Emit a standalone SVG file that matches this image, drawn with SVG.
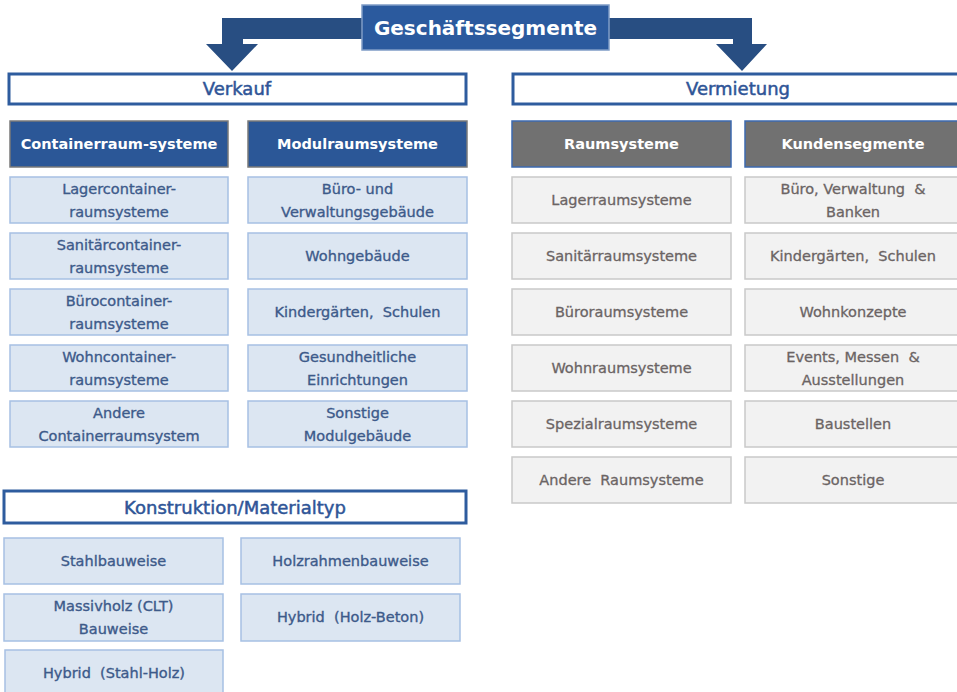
<svg xmlns="http://www.w3.org/2000/svg" width="957" height="692" viewBox="0 0 957 692">
<style>
text{font-family:"DejaVu Sans","Noto Sans",sans-serif;text-anchor:middle}
.title{fill:#2B5A9E;stroke:#7F9CC6;stroke-width:1.5}
.titletxt{fill:#FFFFFF;font-size:20px;font-weight:bold}
.sec{fill:#FFFFFF;stroke:#2E5C9E;stroke-width:3}
.sectxt{fill:#2F5597;font-size:18px;stroke:#2F5597;stroke-width:0.5}
.hb{fill:#2B5797;stroke:#7A7A7A;stroke-width:1.5}
.hg{fill:#717171;stroke:#3C6AB0;stroke-width:1.5}
.htxt{fill:#FFFFFF;font-size:14.5px;font-weight:bold}
.lb{fill:#DCE6F2;stroke:#A6C0E3;stroke-width:1.5}
.lbt{fill:#3D5A8A;font-size:14.5px;stroke:#3D5A8A;stroke-width:0.35}
.lg{fill:#F2F2F2;stroke:#C9C9C9;stroke-width:1.5}
.lgt{fill:#6B6464;font-size:14.5px;stroke:#6B6464;stroke-width:0.3}
.arrow{fill:#284E82}
</style>
<g id="connectors">
<path class="arrow" d="M362,18 L222,18 L222,44 L206,44 L232,71 L258,44 L243,44 L243,39 L362,39 Z"/>
<path class="arrow" d="M609,18 L752,18 L752,44 L767,44 L742,71 L716,44 L733,44 L733,39 L609,39 Z"/>
</g>
<g id="title"><rect class="title" x="362" y="5" width="247" height="45"/><text class="titletxt" x="485.5" y="35">Geschäftssegmente</text></g>
<g id="verkauf"><rect class="sec" x="9" y="74" width="457" height="30"/><text class="sectxt" x="237" y="95">Verkauf</text></g>
<g id="vermietung"><rect class="sec" x="513" y="74" width="452" height="30"/><text class="sectxt" x="738" y="95">Vermietung</text></g>
<g id="h-container"><rect class="hb" x="10" y="121" width="218" height="46"/><text class="htxt" x="119" y="149">Containerraum-systeme</text></g>
<g id="h-modul"><rect class="hb" x="248" y="121" width="219" height="46"/><text class="htxt" x="357.5" y="149">Modulraumsysteme</text></g>
<g id="h-raum"><rect class="hg" x="512" y="121" width="219" height="46"/><text class="htxt" x="621.5" y="149">Raumsysteme</text></g>
<g id="h-kunden"><rect class="hg" x="745" y="121" width="220" height="46"/><text class="htxt" x="853" y="149">Kundensegmente</text></g>

<g id="c1"><rect class="lb" x="10" y="177" width="218" height="46"/><text class="lbt" x="119" y="194">Lagercontainer-</text><text class="lbt" x="119" y="217">raumsysteme</text></g>
<g id="c2"><rect class="lb" x="10" y="233" width="218" height="46"/><text class="lbt" x="119" y="250">Sanitärcontainer-</text><text class="lbt" x="119" y="273">raumsysteme</text></g>
<g id="c3"><rect class="lb" x="10" y="289" width="218" height="46"/><text class="lbt" x="119" y="306">Bürocontainer-</text><text class="lbt" x="119" y="329">raumsysteme</text></g>
<g id="c4"><rect class="lb" x="10" y="345" width="218" height="46"/><text class="lbt" x="119" y="362">Wohncontainer-</text><text class="lbt" x="119" y="385">raumsysteme</text></g>
<g id="c5"><rect class="lb" x="10" y="401" width="218" height="46"/><text class="lbt" x="119" y="418">Andere</text><text class="lbt" x="119" y="441">Containerraumsystem</text></g>

<g id="m1"><rect class="lb" x="248" y="177" width="219" height="46"/><text class="lbt" x="357.5" y="194">Büro- und</text><text class="lbt" x="357.5" y="217">Verwaltungsgebäude</text></g>
<g id="m2"><rect class="lb" x="248" y="233" width="219" height="46"/><text class="lbt" x="357.5" y="261">Wohngebäude</text></g>
<g id="m3"><rect class="lb" x="248" y="289" width="219" height="46"/><text class="lbt" x="357.5" y="317" xml:space="preserve">Kindergärten,  Schulen</text></g>
<g id="m4"><rect class="lb" x="248" y="345" width="219" height="46"/><text class="lbt" x="357.5" y="362">Gesundheitliche</text><text class="lbt" x="357.5" y="385">Einrichtungen</text></g>
<g id="m5"><rect class="lb" x="248" y="401" width="219" height="46"/><text class="lbt" x="357.5" y="418">Sonstige</text><text class="lbt" x="357.5" y="441">Modulgebäude</text></g>

<g id="r1"><rect class="lg" x="512" y="177" width="219" height="46"/><text class="lgt" x="621.5" y="205">Lagerraumsysteme</text></g>
<g id="r2"><rect class="lg" x="512" y="233" width="219" height="46"/><text class="lgt" x="621.5" y="261">Sanitärraumsysteme</text></g>
<g id="r3"><rect class="lg" x="512" y="289" width="219" height="46"/><text class="lgt" x="621.5" y="317">Büroraumsysteme</text></g>
<g id="r4"><rect class="lg" x="512" y="345" width="219" height="46"/><text class="lgt" x="621.5" y="373">Wohnraumsysteme</text></g>
<g id="r5"><rect class="lg" x="512" y="401" width="219" height="46"/><text class="lgt" x="621.5" y="429">Spezialraumsysteme</text></g>
<g id="r6"><rect class="lg" x="512" y="457" width="219" height="46"/><text class="lgt" x="621.5" y="485" xml:space="preserve">Andere  Raumsysteme</text></g>

<g id="k1"><rect class="lg" x="745" y="177" width="220" height="46"/><text class="lgt" x="853" y="194" xml:space="preserve">Büro, Verwaltung  &amp;</text><text class="lgt" x="853" y="217">Banken</text></g>
<g id="k2"><rect class="lg" x="745" y="233" width="220" height="46"/><text class="lgt" x="853" y="261" xml:space="preserve">Kindergärten,  Schulen</text></g>
<g id="k3"><rect class="lg" x="745" y="289" width="220" height="46"/><text class="lgt" x="853" y="317">Wohnkonzepte</text></g>
<g id="k4"><rect class="lg" x="745" y="345" width="220" height="46"/><text class="lgt" x="853" y="362" xml:space="preserve">Events, Messen  &amp;</text><text class="lgt" x="853" y="385">Ausstellungen</text></g>
<g id="k5"><rect class="lg" x="745" y="401" width="220" height="46"/><text class="lgt" x="853" y="429">Baustellen</text></g>
<g id="k6"><rect class="lg" x="745" y="457" width="220" height="46"/><text class="lgt" x="853" y="485">Sonstige</text></g>

<g id="konstruktion"><rect class="sec" x="4" y="491" width="462" height="32"/><text class="sectxt" x="235" y="514">Konstruktion/Materialtyp</text></g>
<g id="s1"><rect class="lb" x="4" y="538" width="219" height="46"/><text class="lbt" x="113.5" y="566">Stahlbauweise</text></g>
<g id="s2"><rect class="lb" x="241" y="538" width="219" height="46"/><text class="lbt" x="350.5" y="566">Holzrahmenbauweise</text></g>
<g id="s3"><rect class="lb" x="4" y="594" width="219" height="47"/><text class="lbt" x="113.5" y="611">Massivholz (CLT)</text><text class="lbt" x="113.5" y="634">Bauweise</text></g>
<g id="s4"><rect class="lb" x="241" y="594" width="219" height="47"/><text class="lbt" x="350.5" y="622" xml:space="preserve">Hybrid  (Holz-Beton)</text></g>
<g id="s5"><rect class="lb" x="5" y="650" width="218" height="50"/><text class="lbt" x="114" y="678" xml:space="preserve">Hybrid  (Stahl-Holz)</text></g>
</svg>
